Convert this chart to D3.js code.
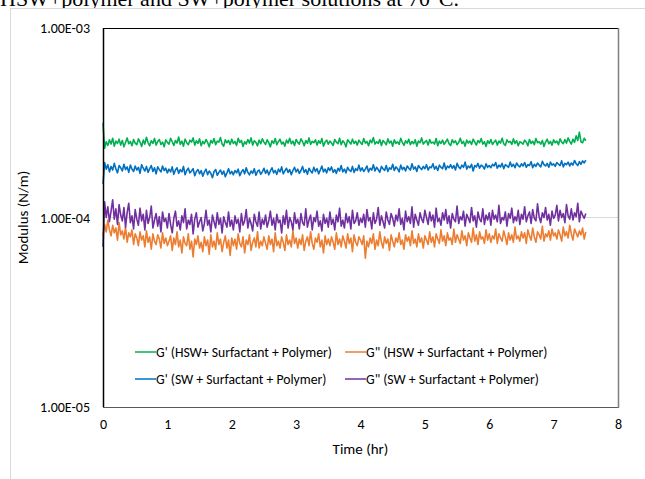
<!DOCTYPE html>
<html lang="en">
<head>
<meta charset="utf-8">
<script src="https://cdn.jsdelivr.net/npm/d3@7"></script>
<style>
  body { margin: 0; background: #fff; }
  svg text { font-family: Carlito, Calibri, Lato, sans-serif; fill: #000; }
</style>
</head>
<body>
<div id="chart"></div>
<script>
// values in micro N/m, one reading every 0.025 hr (0 .. 7.5)
var step = 0.025;
var gHswStorage = [315,
  232,251,240,257,244,262,238,253,246,259,241,255,236,249,263,245,252,239,258,247,
  242,260,250,237,256,244,265,248,239,254,246,261,241,252,258,243,250,236,257,249,
  244,262,251,240,255,247,266,243,253,238,259,248,242,256,250,263,241,254,246,260,
  239,252,245,258,249,236,255,247,261,242,253,250,264,244,238,257,248,255,243,259,
  246,252,240,262,249,255,237,251,244,258,247,263,241,254,249,239,256,245,260,250,
  243,257,248,236,254,246,261,242,252,259,244,250,238,256,247,262,245,253,240,258,
  249,244,260,251,239,255,246,263,243,252,248,257,241,254,246,261,238,250,256,244,
  253,247,240,258,250,245,262,242,254,248,236,257,251,244,259,246,253,241,256,249,
  243,261,247,252,239,256,248,264,244,251,246,258,240,255,249,242,260,247,253,238,
  257,246,251,243,262,249,240,254,247,259,242,252,245,257,238,253,248,263,244,250,
  255,241,258,247,250,244,261,239,253,246,256,243,251,259,245,240,257,248,254,242,
  249,262,246,252,238,256,247,253,243,259,250,241,255,248,261,244,251,237,254,246,
  258,243,250,256,241,253,247,262,245,240,257,249,252,243,260,246,254,239,251,248,
  244,256,250,239,258,246,253,242,261,248,251,244,255,237,250,259,245,252,241,257,
  248,253,242,260,250,245,258,247,263,252,244,259,249,270,255,282,251,248,262,254];
var gHswLoss = [80,
  92,84,97,86,80,91,83,88,76,94,81,85,77,89,74,83,79,86,72,82,
  78,71,84,76,80,70,85,74,79,68,82,75,72,81,77,69,83,73,78,71,
  75,80,67,78,72,84,70,76,65,79,73,71,82,68,75,62,77,72,80,69,
  74,66,79,71,76,64,81,70,75,68,83,72,77,66,74,80,69,76,63,78,
  71,77,68,82,73,70,79,65,76,72,81,67,74,78,70,84,69,75,71,79,
  73,68,80,72,77,66,83,71,75,69,79,74,67,81,72,76,70,85,73,78,
  69,77,72,81,67,75,79,71,84,73,68,78,74,82,70,76,65,80,72,77,
  71,79,74,68,83,72,77,70,80,75,69,82,73,78,66,81,74,71,79,76,
  72,80,61,75,70,78,73,82,68,76,71,84,74,69,79,73,77,67,81,75,
  70,78,74,83,72,76,68,81,75,79,71,85,73,77,70,82,74,78,69,80,
  76,72,84,74,79,70,82,77,73,86,75,80,71,83,76,78,72,87,74,81,
  77,73,85,76,80,71,83,78,74,88,75,81,72,84,77,79,73,86,76,82,
  74,80,77,87,73,82,78,75,85,79,72,83,76,81,74,89,77,80,75,84,
  78,83,73,86,80,76,88,79,74,84,81,77,90,75,82,79,85,76,87,80,
  83,77,86,81,75,89,80,84,78,91,82,76,87,83,79,85,81,88,77,84];
var gSwStorage = [150,
  195,180,190,174,186,178,193,181,172,188,183,176,191,179,185,173,189,180,175,187,
  178,184,171,190,182,176,186,173,181,188,175,183,170,185,179,174,187,177,182,172,
  180,174,185,169,178,183,171,179,174,186,168,177,182,172,176,181,166,175,179,170,
  177,165,174,180,168,176,171,162,175,179,167,173,178,169,176,164,172,181,170,175,
  168,177,172,180,166,174,179,170,183,173,168,176,171,181,167,175,178,169,174,182,
  171,178,168,176,183,172,177,169,180,174,185,170,176,182,173,179,168,177,184,174,
  180,171,177,186,173,179,169,182,176,172,184,175,181,170,178,187,174,180,172,183,
  177,185,173,179,171,182,176,188,174,180,172,184,178,175,186,173,181,177,189,176,
  183,175,180,187,174,182,178,190,176,184,179,173,186,181,177,188,175,183,180,191,
  177,185,181,174,189,179,184,176,187,182,178,192,180,185,175,188,183,179,186,181,
  190,178,185,183,192,180,186,177,189,184,181,194,179,187,183,190,182,188,178,193,
  185,181,189,184,196,180,187,183,191,176,188,185,193,182,189,186,180,192,184,188,
  183,191,187,195,182,189,185,193,181,190,187,184,196,186,191,183,194,188,185,192,
  187,195,184,190,188,197,183,191,186,194,189,185,198,190,187,193,184,196,189,192,
  186,195,191,188,199,185,193,190,196,187,194,189,200,192,188,197,191,199,194,201];
var gSwLoss = [70,
  121,100,114,95,108,124,98,111,92,117,103,96,113,89,106,119,94,102,87,110,
  98,91,112,96,104,86,109,93,100,115,88,97,105,90,101,84,107,95,99,88,
  105,92,83,99,108,90,96,86,102,94,111,87,97,92,104,82,98,106,89,95,
  100,85,93,109,91,97,84,103,95,88,106,92,99,83,101,94,89,107,90,97,
  86,102,93,98,84,105,91,96,110,88,99,93,85,104,95,90,107,87,98,92,
  103,89,96,108,91,99,86,104,94,97,83,102,92,109,88,100,95,86,106,93,
  98,87,105,94,91,111,89,97,103,86,100,95,108,90,96,85,104,93,99,89,
  107,92,98,86,103,95,112,90,97,88,105,94,101,87,109,93,96,106,91,99,
  94,104,89,110,96,100,87,106,93,98,113,91,102,95,88,107,97,92,105,99,
  90,103,96,111,92,99,86,108,95,101,93,114,89,104,97,91,106,98,94,109,
  100,92,107,96,103,89,112,95,99,91,106,97,110,93,102,88,105,98,95,115,
  93,101,97,108,90,104,99,94,113,96,102,89,107,98,95,111,92,103,97,106,
  91,109,98,103,95,116,93,100,97,107,90,105,99,112,94,101,96,109,92,104,
  98,114,95,102,107,93,110,99,96,118,101,94,106,100,113,97,104,91,108,99,
  103,116,96,109,100,105,94,117,102,98,111,97,106,101,119,95,108,103,99,105];

var seriesNames = ["G' (HSW+ Surfactant + Polymer)", "G\" (HSW + Surfactant + Polymer)",
                   "G' (SW + Surfactant + Polymer)", "G\" (SW + Surfactant + Polymer)"];
var seriesColors = ["#00b050", "#ed7d31", "#0070c0", "#7030a0"];
var seriesData = [gHswStorage, gHswLoss, gSwStorage, gSwLoss];

var xTicks = [0, 1, 2, 3, 4, 5, 6, 7, 8];
var yTicks = [1e-5, 1e-4, 1e-3];
var yTickLabels = ["1.00E-05", "1.00E-04", "1.00E-03"];

var width = 645, height = 479;
var plotL = 103, plotR = 618, plotT = 28, plotB = 407;

var svg = d3.select("#chart").append("svg")
  .attr("width", width)
  .attr("height", height);

// cropped caption from the document above the chart
svg.append("text")
  .attr("x", 0)
  .attr("y", 6)
  .style("font-family", "'Liberation Serif', 'Times New Roman', serif")
  .style("font-size", "22px")
  .text("HSW+polymer and SW+polymer solutions at 70°C.");

// chart area border
svg.append("rect")
  .attr("x", 10.5).attr("y", 8.5)
  .attr("width", 700).attr("height", 600)
  .attr("fill", "#fff")
  .attr("stroke", "#d9d9d9");

var x = d3.scaleLinear().domain([0, 8]).range([plotL, plotR]);
var y = d3.scaleLog().domain([1e-5, 1e-3]).range([plotB, plotT]);

// gridline
svg.append("line")
  .attr("x1", plotL).attr("x2", plotR)
  .attr("y1", y(1e-4)).attr("y2", y(1e-4))
  .attr("stroke", "#d9d9d9");

// y axis
var yAxis = svg.append("g")
  .attr("transform", "translate(" + (plotL - 13) + ",0)")
  .call(d3.axisLeft(y).tickValues(yTicks).tickSize(0).tickPadding(0)
    .tickFormat(function(d, i) { return yTickLabels[i]; }));
yAxis.select(".domain").remove();
yAxis.selectAll(".tick text").attr("dy", "0.35em").style("font-size", "14px");

// x axis
var xAxis = svg.append("g")
  .attr("transform", "translate(0," + (plotB + 12) + ")")
  .call(d3.axisBottom(x).tickValues(xTicks).tickSize(0).tickPadding(0));
xAxis.select(".domain").remove();
xAxis.selectAll(".tick text").style("font-size", "14px");

// lines
var line = d3.line()
  .x(function(d, i) { return x(i * step); })
  .y(function(d) { return y(d * 1e-6); });

seriesData.forEach(function(s, k) {
  svg.append("path")
    .datum(s)
    .attr("d", line)
    .attr("fill", "none")
    .attr("stroke", seriesColors[k])
    .attr("stroke-width", 1.6)
    .attr("stroke-linejoin", "round");
});

// plot frame
svg.append("line").attr("x1", plotL).attr("x2", plotR).attr("y1", plotT + 0.5).attr("y2", plotT + 0.5)
  .attr("stroke", "#000");
svg.append("line").attr("x1", plotL + 0.5).attr("x2", plotL + 0.5).attr("y1", plotT).attr("y2", plotB)
  .attr("stroke", "#000").attr("stroke-width", 1.5);
svg.append("line").attr("x1", plotL).attr("x2", plotR).attr("y1", plotB + 0.5).attr("y2", plotB + 0.5)
  .attr("stroke", "#595959");
svg.append("line").attr("x1", plotR + 0.5).attr("x2", plotR + 0.5).attr("y1", plotT).attr("y2", plotB + 1)
  .attr("stroke", "#7f7f7f").attr("stroke-width", 1.5);

// axis titles
svg.append("text")
  .attr("x", (plotL + plotR) / 2).attr("y", 454)
  .attr("text-anchor", "middle")
  .style("font-size", "15px")
  .text("Time (hr)");
svg.append("text")
  .attr("transform", "translate(28," + y(1e-4) + ") rotate(-90)")
  .attr("text-anchor", "middle")
  .style("font-size", "15px")
  .text("Modulus (N/m)");

// legend
var legendPos = [[135, 352], [345, 352], [135, 379], [345, 379]];
var legend = svg.selectAll(".legend")
  .data(seriesNames)
  .enter().append("g")
  .attr("transform", function(d, i) { return "translate(" + legendPos[i][0] + "," + legendPos[i][1] + ")"; });
legend.append("line")
  .attr("x1", 0).attr("x2", 21)
  .attr("stroke", function(d, i) { return seriesColors[i]; })
  .attr("stroke-width", 1.5);
legend.append("text")
  .attr("x", 21).attr("dy", "0.35em")
  .style("font-size", "13.7px")
  .text(function(d) { return d; });
</script>
</body>
</html>
